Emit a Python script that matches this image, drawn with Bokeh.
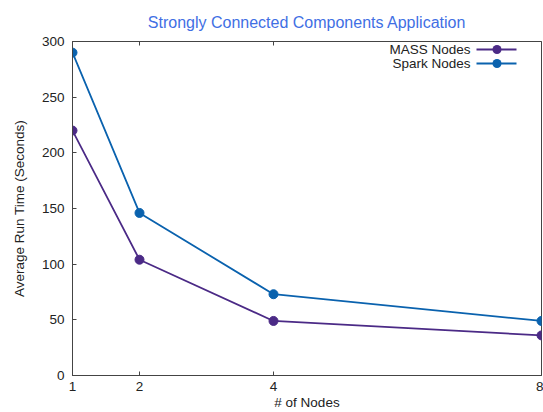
from bokeh.plotting import figure
from bokeh.models import Range1d, LinearAxis, FixedTicker, Label, BoxAnnotation, PolyAnnotation
from bokeh.embed import file_html
from bokeh.resources import INLINE

nodes = [1, 2, 4, 8]
mass_times = [220, 104, 49, 36]
spark_times = [290, 146, 73, 49]
x_ticks = [1, 2, 4, 8]
y_ticks = [0, 50, 100, 150, 200, 250, 300]
series_names = ["MASS Nodes", "Spark Nodes"]
series_colors = ["#4B2A86", "#0A62AE"]

FONT = "Liberation Sans"
AX = "#444444"

p = figure(width=543, height=412, output_backend="svg", toolbar_location=None,
           x_range=Range1d(1, 8), y_range=Range1d(0, 300),
           min_border_left=72, min_border_right=2, min_border_top=41, min_border_bottom=37,
           x_axis_label="# of Nodes", y_axis_label="Average Run Time (Seconds)")

p.title.text = "Strongly Connected Components Application"
p.title.align = "center"
p.title.text_font = FONT
p.title.text_font_size = "16px"
p.title.text_font_style = "normal"
p.title.text_color = "#3F6FE4"
p.title.standoff = 21

p.xgrid.visible = False
p.ygrid.visible = False
p.outline_line_color = AX
p.outline_line_width = 1
p.outline_line_alpha = 1

for ax in (p.xaxis[0], p.yaxis[0]):
    ax.axis_line_color = AX
    ax.major_tick_line_color = AX
    ax.major_tick_in = 4
    ax.major_tick_out = 0
    ax.minor_tick_line_color = None
    ax.major_label_text_font = FONT
    ax.major_label_text_font_size = "13.5px"
    ax.major_label_text_color = "#222222"
    ax.axis_label_text_font = FONT
    ax.axis_label_text_font_style = "normal"
    ax.axis_label_text_color = "#222222"
    ax.axis_label_text_font_size = "13.5px"

p.xaxis[0].ticker = FixedTicker(ticks=x_ticks)
p.yaxis[0].ticker = FixedTicker(ticks=y_ticks)
p.xaxis[0].major_label_standoff = 6
p.xaxis[0].axis_label_standoff = 1
p.yaxis[0].major_label_standoff = 8
p.yaxis[0].axis_label_standoff = 12

top = LinearAxis(ticker=FixedTicker(ticks=x_ticks), major_label_overrides={t: "" for t in x_ticks},
                 axis_line_color=None, major_tick_in=4, major_tick_out=0,
                 major_tick_line_color=AX, minor_tick_line_color=None)
p.add_layout(top, "above")

for ys, name, col in zip([mass_times, spark_times], series_names, series_colors):
    p.line(nodes, ys, line_color=col, line_width=1.8)
    p.scatter(nodes, ys, marker="circle", size=9, fill_color=col, line_color=col)

# manual legend (label left of sample), frame-relative screen units
leg_y = [326, 312]
for name, col, ly in zip(series_names, series_colors, leg_y):
    p.add_layout(Label(x=398, y=ly, x_units="screen", y_units="screen", text=name,
                       text_align="right", text_baseline="middle", text_font=FONT,
                       text_font_size="13.5px", text_color="#222222"))
    p.add_layout(PolyAnnotation(xs=[404, 444, 444, 404], ys=[ly - 0.9, ly - 0.9, ly + 0.9, ly + 0.9],
                                xs_units="screen", ys_units="screen",
                                fill_color=col, fill_alpha=1, line_color=None))
    p.add_layout(BoxAnnotation(left=420, right=429, bottom=ly - 4.5, top=ly + 4.5,
                               left_units="screen", right_units="screen",
                               bottom_units="screen", top_units="screen",
                               border_radius=5, fill_color=col, fill_alpha=1, line_color=None))

open("out.html", "w").write(file_html(p, INLINE))
